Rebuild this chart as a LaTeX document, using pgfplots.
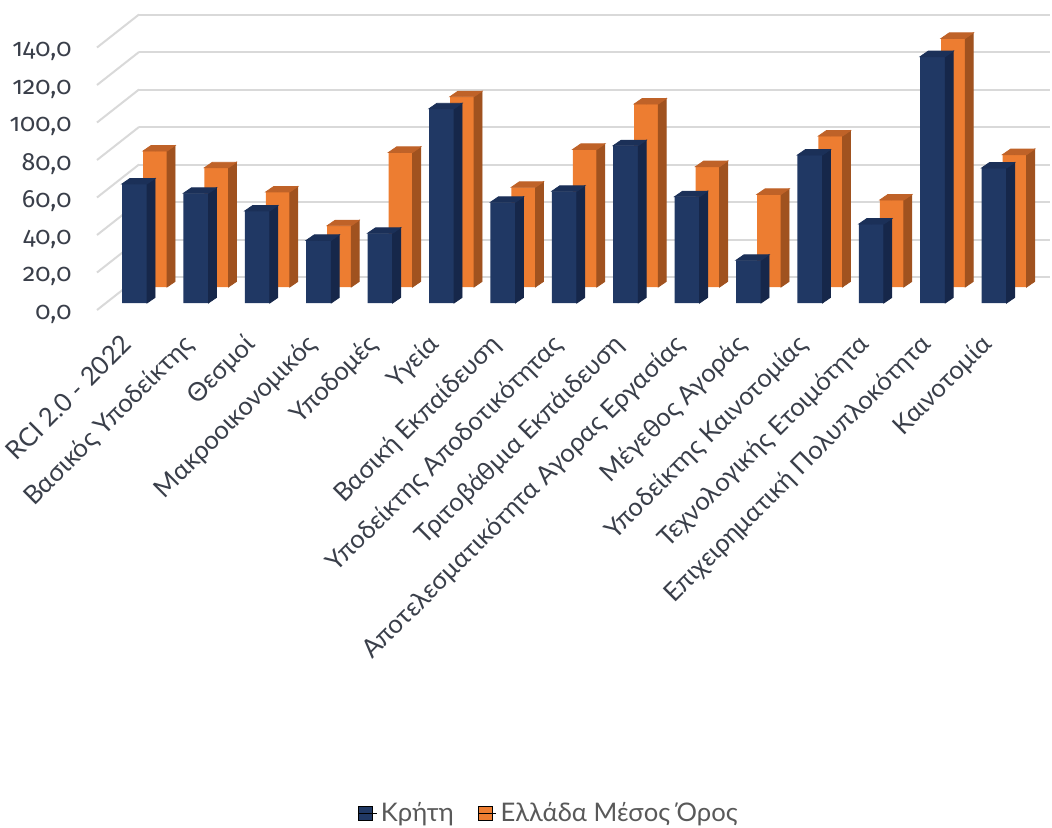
\documentclass[border=0pt]{standalone}
\usepackage{fontspec}
\setmainfont{Lato}
\newfontfamily\numfont{Fira Sans}[Numbers={OldStyle,Proportional}]
\usepackage{pgfplots}
\usepackage{pgfplotstable}
\pgfplotsset{compat=1.18}
\definecolor{navyF}{HTML}{203864}
\definecolor{navyS}{HTML}{16274A}
\definecolor{navyT}{HTML}{1B3058}
\definecolor{oranF}{HTML}{ED7D31}
\definecolor{oranS}{HTML}{A0521F}
\definecolor{oranT}{HTML}{BF6228}
\definecolor{gridc}{HTML}{D9D9D9}
\definecolor{labc}{HTML}{3A3F4A}
\definecolor{legc}{HTML}{595959}

\pgfplotstableread{
x crete greece
0 63.5 72.5
1 58.5 63.6
2 49.1 50.7
3 33.4 32.7
4 37.2 71.8
5 103.6 101.5
6 53.7 53.2
7 59.6 73.4
8 83.9 97.6
9 56.7 64.2
10 22.8 49.4
11 78.9 80.5
12 42.1 46.4
13 131.4 132.6
14 72.0 70.6
}\datatable

\pgfplotsset{
  bar3d/.style n args={3}{%
    scatter, only marks, mark=*, mark size=0pt,
    visualization depends on={rawy \as \bary},
    scatter/@pre marker code/.code={%
      \begingroup
      \pgfkeys{/pgf/fpu=true,/pgf/fpu/output format=fixed}%
      \pgfmathparse{\bary*0.9375}%
      \xdef\barh{\pgfmathresult}%
      \endgroup
      \fill[#1] (#3,0pt) -- ++(4pt,2.75pt) -- ++(0pt,-\barh pt) -- ++(-4pt,-2.75pt) -- cycle;
      \fill[#2] (-#3,0pt) -- (#3,0pt) -- ++(4pt,2.75pt) -- ++(-2*#3,0pt) -- cycle;
    },
    scatter/@post marker code/.code={},
  },
}

\begin{document}
\begin{tikzpicture}
\useasboundingbox (0,0) rectangle (526pt,413.5pt);

% back wall grid, left wall lines, y labels, legend
\begin{axis}[at={(69.5pt,275pt)}, anchor=south west,
  x=0.5pt, y=0.9375pt, xmin=139, xmax=1050, ymin=0, ymax=140,
  axis line style={draw=none}, major tick length=0pt,
  xtick=\empty, ytick={0,20,...,140},
  ymajorgrids, grid style={gridc, line width=1pt},
  /pgf/number format/assume math mode=true,
  yticklabel style={anchor=east, inner sep=0pt, xshift=-33.5pt, yshift=-18.5pt,
    font=\numfont\fontsize{12.5}{14}\selectfont, text=labc,
    /pgf/number format/.cd, fixed, fixed zerofill, precision=1, use comma, assume math mode=true},
  clip=false,
  legend columns=2,
  legend style={at={(0.451,-2.042)}, anchor=center, draw=none, fill=none,
    font=\fontsize{12.8}{15}\selectfont, text=legc,
    /tikz/every even column/.append style={column sep=10pt}},
  legend image code/.code={\fill[#1] (0pt,-3.5pt) rectangle (7pt,3.5pt); \path (0pt,0pt) -- (9pt,0pt);},
]
\addplot[gridc, line width=1pt, forget plot] coordinates {(97,-17.6) (139,0)};
\addplot[gridc, line width=1pt, forget plot] coordinates {(97,2.4) (139,20)};
\addplot[gridc, line width=1pt, forget plot] coordinates {(97,22.4) (139,40)};
\addplot[gridc, line width=1pt, forget plot] coordinates {(97,42.4) (139,60)};
\addplot[gridc, line width=1pt, forget plot] coordinates {(97,62.4) (139,80)};
\addplot[gridc, line width=1pt, forget plot] coordinates {(97,82.4) (139,100)};
\addplot[gridc, line width=1pt, forget plot] coordinates {(97,102.4) (139,120)};
\addplot[gridc, line width=1pt, forget plot] coordinates {(97,122.4) (139,140)};
\addlegendimage{fill=navyF}
\addlegendentry{Κρήτη}
\addlegendimage{fill=oranF}
\addlegendentry{Ελλάδα Μέσος Όρος}
\end{axis}

% back row: Greece average
\begin{axis}[at={(62.15pt,270pt)}, anchor=south west,
  x=30.7pt, y=0.9375pt, xmin=-0.5, xmax=14.5, ymin=0, ymax=150,
  hide axis, clip=false]
\addplot[ybar, bar width=12pt, bar shift=0pt, fill=oranF, draw=none]
  table[x=x, y=greece] {\datatable};
\addplot[bar3d={oranS}{oranT}{6pt}] table[x=x, y=greece] {\datatable};
\end{axis}

% front row: Crete
\begin{axis}[at={(51.9pt,262pt)}, anchor=south west,
  x=30.7pt, y=0.9375pt, xmin=-0.5, xmax=14.5, ymin=0, ymax=150,
  axis line style={draw=none}, major tick length=0pt, ytick=\empty,
  xtick={0,...,14},
  xticklabels={RCI 2.0 - 2022, Βασικός Υποδείκτης, Θεσμοί, Μακροοικονομικός, Υποδομές, Υγεία, Βασική Εκπαίδευση, Υποδείκτης Αποδοτικότητας, Τριτοβάθμια Εκπάιδευση, Αποτελεσματικότητα Αγορας Εργασίας, Μέγεθος Αγοράς, Υποδείκτης Καινοτομίας, Τεχνολογικής Ετοιμότητα, Επιχειρηματική Πολυπλοκότητα, Καινοτομία},
  xticklabel style={xshift=-7.2pt, yshift=-14.5pt, rotate=45, anchor=north east, inner sep=0pt,
    font=\fontsize{12.8}{15}\selectfont, text=labc},
  clip=false]
\addplot[ybar, bar width=12.5pt, bar shift=0pt, fill=navyF, draw=none]
  table[x=x, y=crete] {\datatable};
\addplot[bar3d={navyS}{navyT}{6.25pt}] table[x=x, y=crete] {\datatable};
\end{axis}
\end{tikzpicture}
\end{document}
